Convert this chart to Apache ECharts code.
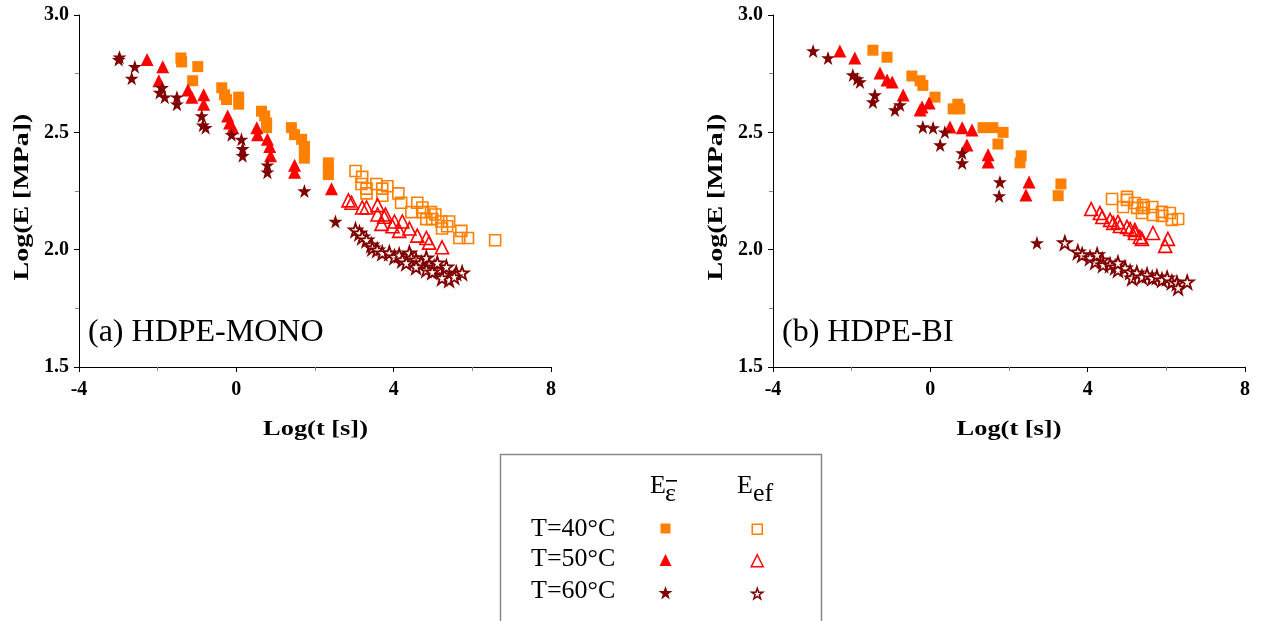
<!DOCTYPE html>
<html>
<head>
<meta charset="utf-8">
<script src="https://cdn.jsdelivr.net/npm/echarts@6/dist/echarts.min.js"></script>
<style>
html,body{margin:0;padding:0;background:#fff;}
#chart{width:1265px;height:621px;}
</style>
</head>
<body>
<div id="chart"></div>
<script>
// ---------- DATA: [log t, log E] ----------
// (a) HDPE-MONO
const monoE40 = [[-1.41,2.817],[-1.39,2.80],[-0.98,2.78],[-1.11,2.72],[-0.37,2.69],[-0.30,2.66],[-0.25,2.64],[0.06,2.65],[0.06,2.62],[0.64,2.59],[0.72,2.57],[0.77,2.54],[0.77,2.52],[1.40,2.52],[1.48,2.49],[1.66,2.47],[1.73,2.44],[1.73,2.42],[1.73,2.39],[2.34,2.37],[2.34,2.34],[2.34,2.32]];
const monoEf40 = [[3.03,2.335],[3.20,2.31],[3.18,2.28],[3.31,2.26],[3.56,2.28],[3.71,2.26],[3.84,2.27],[3.71,2.23],[3.31,2.24],[4.12,2.24],[4.19,2.20],[4.45,2.16],[4.60,2.20],[4.73,2.18],[4.75,2.16],[4.95,2.16],[4.98,2.13],[5.06,2.15],[5.21,2.12],[5.23,2.09],[5.41,2.12],[5.36,2.10],[5.72,2.08],[5.89,2.05],[6.58,2.04],[5.67,2.05],[4.83,2.13]];
const monoE50 = [[-2.27,2.81],[-1.87,2.78],[-1.97,2.72],[-1.23,2.68],[-1.13,2.65],[-0.83,2.66],[-0.83,2.62],[-0.22,2.57],[-0.17,2.54],[-0.09,2.52],[0.52,2.52],[0.54,2.49],[0.79,2.47],[0.85,2.44],[0.87,2.40],[1.48,2.36],[1.48,2.33],[2.42,2.26]];
const monoEf50 = [[2.85,2.21],[2.93,2.20],[3.20,2.18],[3.31,2.18],[3.59,2.19],[3.59,2.15],[3.79,2.15],[3.69,2.11],[3.97,2.10],[4.22,2.12],[4.40,2.09],[4.14,2.08],[4.60,2.06],[4.83,2.05],[4.90,2.03],[5.23,2.01],[4.02,2.12],[3.76,2.14]];
const monoE60 = [[-2.99,2.81],[-2.97,2.82],[-2.58,2.78],[-2.66,2.73],[-1.89,2.69],[-1.95,2.67],[-1.82,2.65],[-1.51,2.65],[-1.51,2.62],[-0.88,2.57],[-0.85,2.53],[-0.78,2.52],[-0.12,2.49],[0.13,2.47],[0.16,2.43],[0.16,2.40],[0.79,2.36],[0.79,2.33],[1.73,2.25],[2.52,2.12]];
const monoEf60 = [[3.03,2.084],[3.13,2.071],[3.20,2.054],[3.31,2.041],[3.43,2.020],[3.46,2.007],[3.58,1.999],[3.71,1.986],[3.89,1.986],[4.02,1.969],[4.14,1.977],[4.22,1.956],[4.40,1.986],[4.45,1.965],[4.57,1.956],[4.70,1.943],[4.83,1.965],[4.90,1.935],[5.03,1.926],[5.16,1.914],[5.28,1.892],[5.41,1.871],[5.59,1.901],[5.74,1.901],[5.34,1.926],[5.11,1.943],[4.57,1.926],[4.32,1.943],[4.83,1.914],[4.98,1.905],[5.23,1.879],[5.54,1.884]];
// (b) HDPE-BI
const biE40 = [[-1.46,2.85],[-1.10,2.82],[-0.47,2.74],[-0.26,2.72],[-0.19,2.70],[0.12,2.65],[0.58,2.60],[0.70,2.62],[0.75,2.60],[1.34,2.52],[1.59,2.52],[1.85,2.50],[1.72,2.45],[2.31,2.40],[2.28,2.37],[3.32,2.28],[3.25,2.23]];
const biEf40 = [[4.62,2.216],[5.00,2.225],[5.00,2.212],[4.90,2.182],[5.20,2.199],[5.26,2.178],[5.41,2.190],[5.43,2.178],[5.64,2.182],[5.66,2.148],[5.89,2.161],[5.89,2.144],[6.09,2.156],[6.14,2.127],[6.30,2.131],[5.38,2.156]];
const biE50 = [[-2.30,2.847],[-1.92,2.817],[-1.28,2.753],[-1.10,2.723],[-0.97,2.715],[-0.69,2.659],[-0.21,2.608],[-0.03,2.625],[-0.26,2.595],[0.50,2.523],[0.81,2.519],[1.06,2.510],[0.93,2.446],[1.47,2.404],[1.47,2.374],[2.51,2.288],[2.43,2.233]];
const biEf50 = [[4.09,2.173],[4.31,2.156],[4.37,2.139],[4.57,2.127],[4.65,2.114],[4.77,2.118],[4.82,2.101],[5.00,2.097],[5.08,2.088],[5.20,2.084],[5.20,2.071],[5.33,2.054],[5.38,2.046],[5.66,2.071],[6.04,2.046],[5.97,2.016]];
const biE60 = [[-2.98,2.847],[-2.60,2.817],[-1.97,2.744],[-1.79,2.715],[-1.86,2.727],[-1.41,2.659],[-1.46,2.629],[-0.77,2.617],[-0.90,2.595],[-0.19,2.523],[0.07,2.519],[0.37,2.501],[0.25,2.446],[0.81,2.412],[0.81,2.369],[1.77,2.288],[1.75,2.229],[2.71,2.029]];
const biEf60 = [[3.42,2.029],[3.75,1.990],[3.86,1.978],[4.06,1.965],[4.19,1.948],[4.37,1.956],[4.39,1.935],[4.57,1.935],[4.70,1.926],[4.77,1.914],[4.95,1.922],[5.08,1.905],[5.13,1.879],[5.25,1.901],[5.38,1.884],[5.51,1.892],[5.64,1.879],[5.76,1.884],[5.89,1.871],[6.02,1.879],[6.14,1.862],[6.27,1.858],[6.30,1.837],[6.53,1.862],[4.24,1.978],[4.77,1.943]];

const panelTitles = ['(a) HDPE-MONO', '(b) HDPE-BI'];
const rowLabels = ['T=40°C', 'T=50°C', 'T=60°C'];
const xTitle = 'Log(t [s])';
const yTitle = 'Log(E [MPa])';

// ---------- STYLE ----------
const C40 = '#FF8000', C50 = '#FF0000', C60 = '#800000';
const STAR = 'path://M50,2 L61.5,36 L97,36 L68,57.5 L79,92 L50,71 L21,92 L32,57.5 L3,36 L38.5,36 Z';
const SERIF = '"Liberation Serif","Times New Roman",serif';
const CLEAR = 'rgba(0,0,0,0)';

const kinds = [
  {name:'E40', symbol:'rect', size:11, lsize:10, style:{color:C40, opacity:1}},
  {name:'Ef40', symbol:'rect', size:11, lsize:10, style:{color:CLEAR, borderColor:C40, borderWidth:1.6, opacity:1}},
  {name:'E50', symbol:'triangle', size:13, lsize:12, style:{color:C50, opacity:1}},
  {name:'Ef50', symbol:'triangle', size:13, lsize:12, style:{color:CLEAR, borderColor:C50, borderWidth:1.6, opacity:1}},
  {name:'E60', symbol:STAR, size:14, lsize:14, style:{color:C60, opacity:1}},
  {name:'Ef60', symbol:STAR, size:13, lsize:11, style:{color:'#fff', borderColor:C60, borderWidth:1.8, opacity:1}}
];
const panelData = [
  [monoE40, monoEf40, monoE50, monoEf50, monoE60, monoEf60],
  [biE40, biEf40, biE50, biEf50, biE60, biEf60]
];

const gridLefts = [79, 773];
const grids = gridLefts.map(l => ({left:l, top:15, width:472, height:352}));

function xAxis(i){
  return {
    type:'value', gridIndex:i, min:-4, max:8, interval:4,
    axisLine:{show:true, onZero:false, lineStyle:{color:'#000', width:1}},
    axisTick:{show:true, length:5, lineStyle:{color:'#000'}},
    minorTick:{show:true, splitNumber:2, length:4, lineStyle:{color:'#888'}},
    axisLabel:{fontFamily:SERIF, fontWeight:'bold', fontSize:20, color:'#000', margin:13},
    splitLine:{show:false}
  };
}
function yAxis(i){
  return {
    type:'value', gridIndex:i, min:1.5, max:3.0, interval:0.5,
    axisLine:{show:true, onZero:false, lineStyle:{color:'#000', width:1}},
    axisTick:{show:true, length:5, lineStyle:{color:'#000'}},
    minorTick:{show:true, splitNumber:2, length:4, lineStyle:{color:'#888'}},
    axisLabel:{fontFamily:SERIF, fontWeight:'bold', fontSize:20, color:'#000', margin:10,
      formatter: v => v.toFixed(1)},
    splitLine:{show:false}
  };
}

const series = [];
panelData.forEach((arrs, p) => {
  arrs.forEach((d, k) => {
    const kd = kinds[k];
    series.push({
      type:'scatter', name:kd.name, xAxisIndex:p, yAxisIndex:p,
      data:d, symbol:kd.symbol, symbolSize:kd.size,
      itemStyle:kd.style, animation:false, silent:true
    });
  });
});

// legend markers (one legend per cell of the table)
const legendCols = [665.5, 756.5];
const legendRows = [528.5, 560, 593];
const textRows = [529, 559, 591];
const legends = [];
kinds.forEach((kd, k) => {
  const col = k % 2, row = Math.floor(k / 2);
  const s = kd.lsize;
  legends.push({
    data:[kd.name], orient:'horizontal', selectedMode:false,
    left:legendCols[col] - s/2, top:legendRows[row] - s/2,
    itemWidth:s, itemHeight:s, padding:0, itemGap:0,
    formatter:() => '', textStyle:{fontSize:6, padding:0, lineHeight:6},
    itemStyle: k === 5 ? {borderWidth:1.5} : (k % 2 === 1 ? {borderWidth:1.5} : {})
  });
});

const bold22 = 'bold 22px ' + SERIF;
const graphic = [
  // axis titles (as text, stretched along their length like the original)
  {type:'text', x:315.5, y:429, scaleX:1.2, style:{text:xTitle, font:bold22, fill:'#000', align:'center', verticalAlign:'middle'}},
  {type:'text', x:1009, y:429, scaleX:1.2, style:{text:xTitle, font:bold22, fill:'#000', align:'center', verticalAlign:'middle'}},
  {type:'text', x:22, y:197, rotation:Math.PI/2, scaleX:1.27, style:{text:yTitle, font:bold22, fill:'#000', align:'center', verticalAlign:'middle'}},
  {type:'text', x:716, y:197, rotation:Math.PI/2, scaleX:1.27, style:{text:yTitle, font:bold22, fill:'#000', align:'center', verticalAlign:'middle'}},
  // panel labels
  {type:'text', x:88, y:332.5, style:{text:panelTitles[0], font:'32px ' + SERIF, fill:'#000', verticalAlign:'middle'}},
  {type:'text', x:782, y:332.5, style:{text:panelTitles[1], font:'32px ' + SERIF, fill:'#000', verticalAlign:'middle'}},
  // legend box
  {type:'rect', shape:{x:500.5, y:454.5, width:321, height:180}, style:{fill:'none', stroke:'#888', lineWidth:1.5}},
  // column headers
  {type:'text', x:650, y:486.5, style:{text:'E', font:'26px ' + SERIF, fill:'#000', verticalAlign:'middle'}},
  {type:'text', x:665, y:494, style:{text:'ε', font:'26px ' + SERIF, fill:'#000', verticalAlign:'middle'}},
  {type:'rect', shape:{x:666, y:480, width:11, height:1.6}, style:{fill:'#000'}},
  {type:'text', x:737, y:486.5, style:{text:'E', font:'26px ' + SERIF, fill:'#000', verticalAlign:'middle'}},
  {type:'text', x:753, y:494, style:{text:'ef', font:'26px ' + SERIF, fill:'#000', verticalAlign:'middle'}}
];
rowLabels.forEach((t, i) => {
  graphic.push({type:'text', x:531, y:textRows[i], style:{text:t, font:'26px ' + SERIF, fill:'#000', verticalAlign:'middle'}});
});

const chart = echarts.init(document.getElementById('chart'), null, {renderer:'canvas'});
chart.setOption({
  backgroundColor:'#fff',
  animation:false,
  grid:grids,
  xAxis:[xAxis(0), xAxis(1)],
  yAxis:[yAxis(0), yAxis(1)],
  legend:legends,
  graphic:graphic,
  series:series
});
</script>
</body>
</html>
